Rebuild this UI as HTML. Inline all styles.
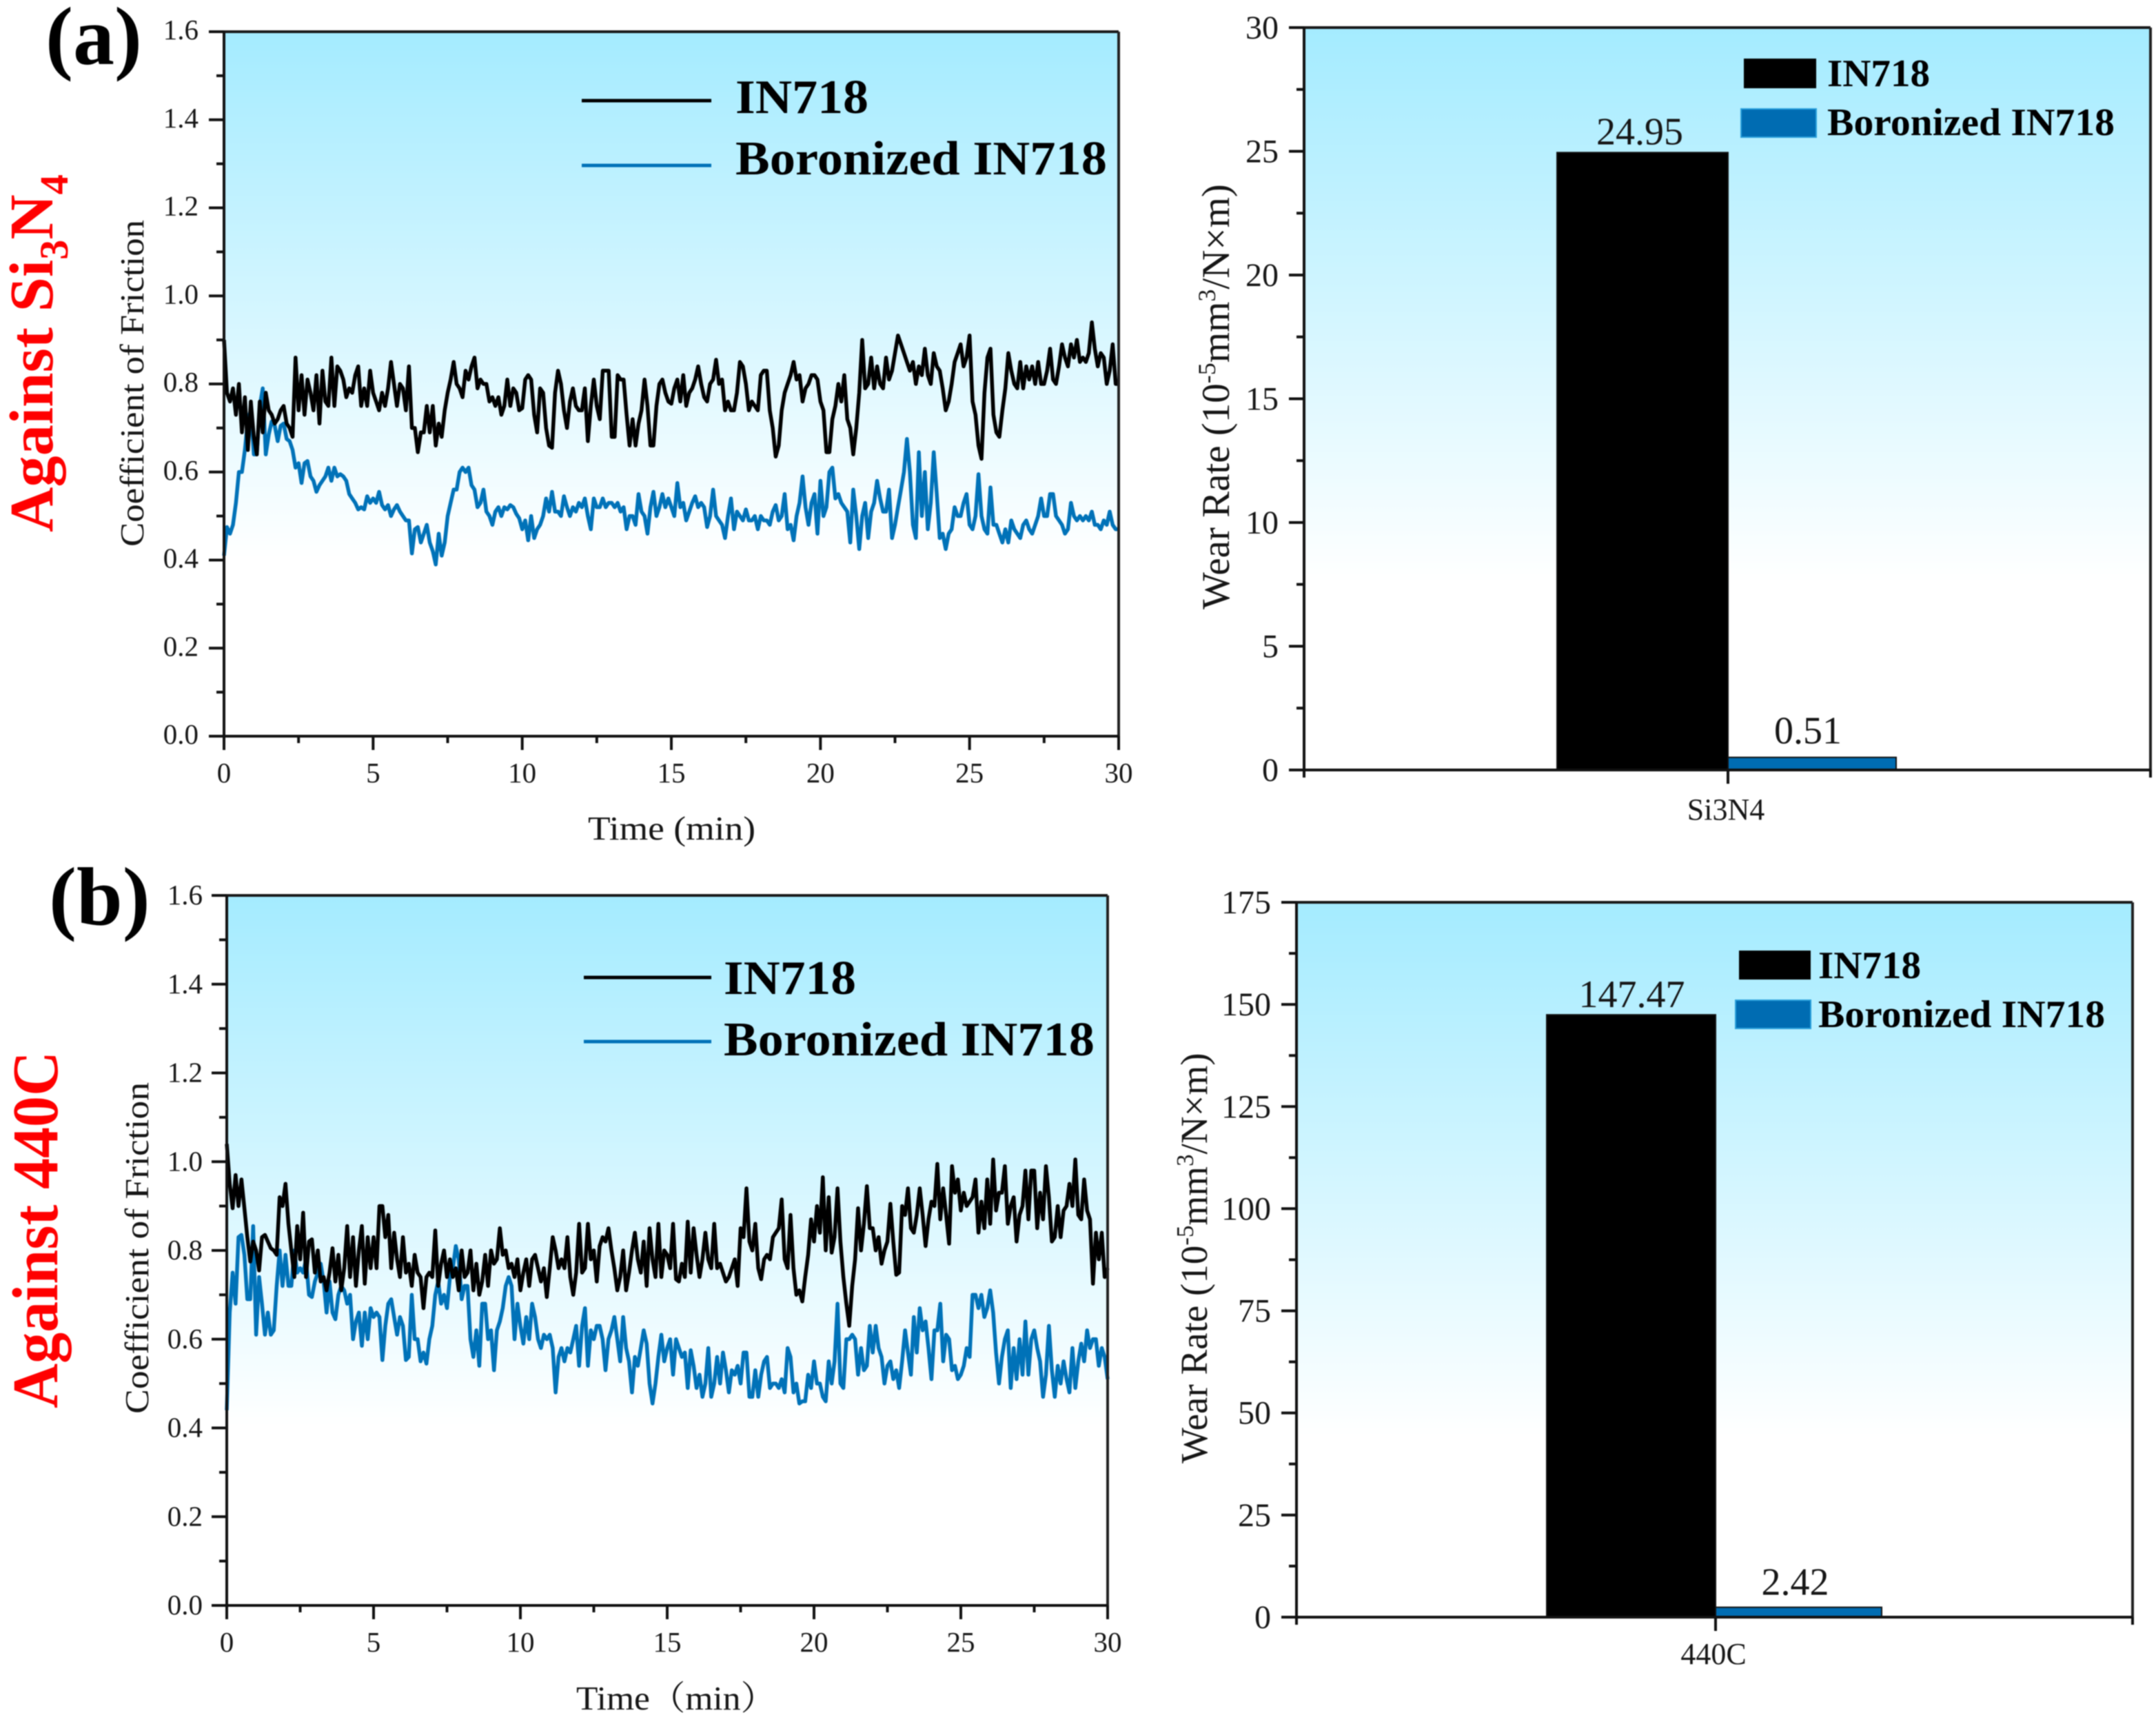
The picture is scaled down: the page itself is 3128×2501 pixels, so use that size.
<!DOCTYPE html>
<html lang="en">
<head>
<meta charset="utf-8">
<title>Friction and wear of IN718 and boronized IN718</title>
<style>
html,body{margin:0;padding:0;background:#fff;}
svg{display:block;filter:blur(0.7px);}
text{font-family:"Liberation Serif","Noto Serif CJK SC",serif;fill:#161616;}
.tick{font-size:41px;}
.tickw{font-size:48px;}
.leg{font-size:70px;font-weight:bold;fill:#000;}
.legw{font-size:56px;font-weight:bold;fill:#000;}
.panel{font-size:120px;font-weight:bold;fill:#000;}
.against{font-size:90px;font-weight:bold;fill:#ff0000;}
.axt{font-size:49px;}
.wr{font-size:57px;}
.cat{font-size:44px;}
.val{font-size:56px;}
</style>
</head>
<body>
<svg id="fig" xmlns="http://www.w3.org/2000/svg" width="3128" height="2501" viewBox="0 0 3128 2501">
<defs>
<linearGradient id="skyfade" x1="0" y1="0" x2="0" y2="1">
<stop offset="0" stop-color="#a4ebff"/>
<stop offset="0.75" stop-color="#ffffff"/>
<stop offset="1" stop-color="#ffffff"/>
</linearGradient>
</defs>
<rect width="3128" height="2501" fill="#fff"/>

<g id="panelA">
<rect x="325" y="46" width="1298" height="1022" fill="url(#skyfade)"/>
</g>
<g id="panelB">
<rect x="329" y="1299" width="1278" height="1030" fill="url(#skyfade)"/>
</g>
<g id="panelC">
<rect x="1892" y="40" width="1228" height="1077" fill="url(#skyfade)"/>
</g>
<g id="panelD">
<rect x="1881" y="1309" width="1213" height="1037" fill="url(#skyfade)"/>
</g>

<text class="panel" x="66" y="93">(a)</text>
<text class="panel" x="71" y="1341">(b)</text>
<text class="against" transform="translate(76 772) rotate(-90)" textLength="519" lengthAdjust="spacingAndGlyphs">Against Si<tspan font-size="58" dy="22">3</tspan><tspan dy="-22">N</tspan><tspan font-size="58" dy="22">4</tspan></text>
<text class="against" style="font-size:94px" transform="translate(83 2043) rotate(-90)" textLength="518" lengthAdjust="spacingAndGlyphs">Against 440C</text>

<text class="axt" transform="translate(208 793) rotate(-90)" textLength="474" lengthAdjust="spacingAndGlyphs">Coefficient of Friction</text>
<text class="axt" x="853" y="1218" textLength="243" lengthAdjust="spacingAndGlyphs">Time (min)</text>
<text class="axt" transform="translate(215 2051) rotate(-90)" textLength="481" lengthAdjust="spacingAndGlyphs">Coefficient of Friction</text>
<text class="axt" x="836" y="2480" textLength="290" lengthAdjust="spacingAndGlyphs">Time（min）</text>

<text class="wr" transform="translate(1783 884) rotate(-90)">Wear Rate (10<tspan font-size="36" dy="-20">-5</tspan><tspan dy="20">mm</tspan><tspan font-size="36" dy="-20">3</tspan><tspan dy="20">/N×m)</tspan></text>
<text class="wr" style="font-size:55px" transform="translate(1751 2123) rotate(-90)">Wear Rate (10<tspan font-size="35" dy="-20">-5</tspan><tspan dy="20">mm</tspan><tspan font-size="35" dy="-20">3</tspan><tspan dy="20">/N×m)</tspan></text>

<g>
<line x1="844" x2="1032" y1="146" y2="146" stroke="#000" stroke-width="5"/>
<line x1="844" x2="1032" y1="240" y2="240" stroke="#0072b8" stroke-width="5"/>
<text class="leg" x="1067" y="164" textLength="193" lengthAdjust="spacingAndGlyphs">IN718</text>
<text class="leg" x="1067" y="253" textLength="539" lengthAdjust="spacingAndGlyphs">Boronized IN718</text>
</g>
<g>
<line x1="847" x2="1032" y1="1418" y2="1418" stroke="#000" stroke-width="5"/>
<line x1="847" x2="1032" y1="1511" y2="1511" stroke="#0072b8" stroke-width="5"/>
<text class="leg" x="1050" y="1442" textLength="192" lengthAdjust="spacingAndGlyphs">IN718</text>
<text class="leg" x="1050" y="1531" textLength="538" lengthAdjust="spacingAndGlyphs">Boronized IN718</text>
</g>
<g>
<rect x="2530" y="85" width="105" height="43" fill="#000"/>
<rect x="2526" y="158" width="109" height="41" fill="#006cb2" stroke="#2aa0dc" stroke-width="2"/>
<text class="legw" x="2651" y="125" textLength="149" lengthAdjust="spacingAndGlyphs">IN718</text>
<text class="legw" x="2651" y="196" textLength="417" lengthAdjust="spacingAndGlyphs">Boronized IN718</text>
</g>
<g>
<rect x="2523" y="1379" width="104" height="42" fill="#000"/>
<rect x="2518" y="1451" width="109" height="41" fill="#006cb2" stroke="#2aa0dc" stroke-width="2"/>
<text class="legw" x="2638" y="1419" textLength="149" lengthAdjust="spacingAndGlyphs">IN718</text>
<text class="legw" x="2638" y="1490" textLength="416" lengthAdjust="spacingAndGlyphs">Boronized IN718</text>
</g>
</svg>

<script>
/* Friction curves: one value per 0.1 min */
const sampleStepMin = 0.1;
const timeTicks = ["0","5","10","15","20","25","30"];
const cofTicks = ["0.0","0.2","0.4","0.6","0.8","1.0","1.2","1.4","1.6"];

const si3n4In718 = [
.90,.78,.76,.79,.73,.80,.69,.77,.65,.76,
.68,.64,.76,.69,.78,.74,.73,.71,.72,.74,
.75,.71,.70,.68,.86,.74,.82,.73,.81,.78,
.74,.82,.71,.83,.76,.75,.86,.75,.84,.83,
.81,.77,.79,.78,.82,.84,.75,.79,.75,.83,
.78,.76,.74,.78,.75,.79,.85,.80,.75,.80,
.79,.74,.84,.70,.70,.645,.69,.69,.75,.69,
.75,.66,.71,.68,.74,.78,.81,.85,.80,.79,
.77,.83,.81,.84,.86,.79,.81,.80,.80,.76,
.77,.75,.77,.73,.75,.81,.75,.79,.78,.74,
.745,.81,.82,.81,.73,.69,.79,.78,.70,.66,
.655,.78,.83,.80,.74,.70,.76,.79,.75,.74,
.74,.79,.67,.75,.81,.75,.72,.83,.83,.83,
.68,.68,.82,.81,.81,.73,.66,.72,.66,.71,
.74,.81,.75,.66,.66,.75,.80,.81,.78,.76,
.755,.79,.81,.76,.82,.75,.78,.79,.81,.84,
.80,.77,.76,.80,.81,.855,.80,.81,.74,.76,
.74,.74,.78,.85,.84,.80,.74,.76,.75,.74,
.82,.83,.83,.74,.70,.635,.66,.74,.78,.80,
.82,.85,.81,.82,.76,.79,.80,.82,.82,.81,
.76,.74,.645,.645,.72,.75,.80,.76,.82,.72,
.70,.64,.70,.78,.90,.79,.80,.86,.79,.84,
.80,.79,.86,.81,.83,.87,.91,.89,.87,.85,
.83,.85,.80,.84,.82,.88,.82,.80,.87,.84,
.83,.79,.74,.76,.80,.85,.87,.89,.84,.86,
.91,.76,.73,.66,.63,.78,.86,.88,.73,.69,
.68,.74,.79,.87,.83,.80,.79,.85,.79,.84,
.81,.84,.80,.85,.80,.80,.83,.88,.81,.80,
.84,.89,.86,.84,.89,.86,.90,.85,.86,.85,
.87,.94,.88,.84,.87,.86,.80,.83,.89,.80,
.80];

const si3n4Boronized = [
.41,.475,.46,.48,.53,.60,.60,.65,.72,.74,
.64,.64,.75,.79,.64,.685,.715,.705,.67,.705,
.71,.675,.67,.65,.61,.62,.575,.62,.625,.59,
.58,.555,.57,.58,.59,.61,.58,.61,.59,.595,
.59,.58,.55,.54,.53,.515,.52,.515,.545,.53,
.54,.53,.555,.525,.515,.525,.50,.515,.525,.51,
.50,.49,.49,.415,.47,.475,.44,.46,.48,.44,
.42,.39,.46,.41,.44,.50,.53,.56,.56,.60,
.61,.60,.61,.57,.56,.52,.53,.56,.51,.50,
.48,.51,.52,.50,.52,.515,.525,.52,.505,.495,
.47,.49,.445,.50,.45,.47,.48,.50,.54,.51,
.555,.51,.51,.50,.545,.52,.50,.52,.51,.53,
.52,.54,.50,.47,.54,.52,.52,.54,.52,.53,
.53,.52,.53,.51,.52,.47,.50,.50,.48,.55,
.51,.50,.46,.52,.555,.50,.52,.55,.52,.54,
.52,.50,.575,.52,.53,.49,.51,.53,.545,.52,
.53,.52,.475,.50,.56,.50,.49,.48,.45,.50,
.54,.47,.51,.50,.49,.515,.49,.49,.50,.47,
.50,.49,.49,.48,.51,.525,.49,.50,.55,.47,
.48,.445,.50,.53,.59,.52,.48,.53,.55,.46,
.58,.50,.52,.60,.61,.54,.55,.53,.52,.51,
.44,.56,.50,.425,.50,.53,.45,.51,.53,.58,
.54,.51,.51,.56,.45,.48,.52,.56,.60,.675,
.60,.48,.45,.645,.50,.60,.47,.53,.645,.55,
.45,.46,.425,.46,.47,.52,.50,.50,.53,.55,
.48,.47,.50,.595,.50,.47,.46,.565,.48,.48,
.46,.44,.47,.44,.49,.47,.46,.45,.48,.49,
.47,.46,.48,.50,.54,.50,.50,.55,.55,.50,
.49,.48,.46,.47,.53,.50,.49,.50,.49,.50,
.49,.51,.48,.48,.47,.49,.48,.51,.48,.47,
.47];

const c440In718 = [
1.04,.95,.895,.97,.90,.96,.895,.83,.775,.82,
.80,.755,.83,.835,.82,.805,.80,.79,.92,.90,
.95,.86,.80,.74,.855,.78,.885,.74,.82,.825,
.75,.80,.73,.74,.71,.75,.805,.73,.79,.71,
.76,.855,.74,.83,.72,.80,.855,.725,.83,.76,
.83,.76,.90,.90,.83,.88,.76,.84,.78,.74,
.83,.75,.77,.72,.79,.75,.74,.67,.74,.75,
.74,.845,.72,.77,.80,.74,.78,.74,.76,.71,
.80,.74,.75,.80,.71,.77,.70,.73,.79,.72,
.80,.77,.78,.85,.79,.80,.76,.77,.74,.78,
.71,.75,.78,.72,.78,.79,.76,.73,.76,.695,
.76,.83,.80,.76,.78,.76,.83,.74,.70,.75,
.86,.75,.76,.86,.78,.80,.73,.81,.83,.82,
.85,.80,.76,.71,.74,.80,.71,.75,.80,.84,
.78,.75,.82,.72,.85,.78,.74,.86,.74,.80,
.79,.76,.86,.735,.73,.77,.74,.865,.75,.85,
.79,.74,.78,.84,.78,.76,.86,.76,.77,.75,
.73,.74,.76,.78,.72,.85,.83,.94,.82,.80,
.86,.76,.735,.78,.79,.78,.83,.84,.85,.915,
.78,.76,.88,.76,.70,.71,.685,.74,.79,.87,
.82,.90,.84,.965,.80,.92,.795,.83,.94,.82,
.74,.68,.63,.72,.78,.895,.80,.86,.945,.85,
.85,.80,.83,.77,.80,.82,.905,.82,.745,.75,
.90,.88,.94,.85,.84,.88,.94,.88,.81,.87,
.91,.90,.995,.87,.94,.88,.815,.99,.93,.96,
.89,.93,.90,.91,.92,.96,.84,.91,.85,.96,
.86,1.005,.89,.93,.93,.99,.86,.90,.92,.82,
.88,.90,.98,.87,.98,.98,.85,.93,.87,.99,
.92,.82,.83,.90,.83,.89,.90,.95,.90,1.005,
.88,.87,.96,.89,.87,.725,.84,.78,.84,.74,
.76];

const c440Boronized = [
.44,.66,.75,.68,.83,.835,.79,.69,.69,.855,
.61,.74,.68,.61,.66,.61,.62,.72,.80,.72,
.79,.72,.72,.80,.75,.76,.75,.78,.70,.695,
.73,.75,.77,.73,.66,.73,.66,.645,.70,.72,
.71,.68,.70,.60,.64,.66,.585,.66,.60,.67,
.65,.66,.65,.553,.63,.68,.69,.65,.61,.65,
.63,.553,.56,.70,.60,.60,.55,.57,.545,.60,
.63,.70,.73,.68,.70,.67,.74,.76,.81,.78,
.69,.72,.72,.60,.56,.62,.54,.68,.68,.60,
.62,.53,.62,.64,.67,.72,.74,.72,.60,.68,
.63,.59,.65,.60,.68,.65,.60,.58,.61,.60,
.61,.58,.48,.56,.58,.55,.58,.57,.60,.63,
.54,.63,.67,.54,.62,.60,.63,.63,.60,.53,
.60,.62,.65,.60,.55,.65,.58,.55,.48,.56,
.54,.58,.62,.59,.50,.455,.50,.56,.61,.55,
.58,.60,.52,.60,.58,.56,.57,.49,.575,.54,
.49,.52,.47,.50,.58,.47,.50,.56,.50,.57,
.53,.48,.53,.52,.54,.50,.57,.57,.47,.47,
.53,.47,.52,.55,.56,.49,.50,.50,.49,.51,
.48,.58,.56,.48,.50,.455,.46,.46,.52,.49,
.55,.50,.50,.47,.46,.55,.50,.55,.68,.50,
.49,.60,.60,.61,.60,.52,.58,.53,.54,.63,
.57,.63,.58,.56,.50,.54,.55,.51,.53,.49,
.55,.62,.57,.52,.65,.57,.67,.62,.64,.58,
.51,.62,.62,.68,.55,.61,.60,.53,.54,.51,
.52,.54,.58,.56,.70,.70,.67,.70,.65,.67,
.71,.66,.57,.50,.56,.60,.62,.49,.58,.51,
.60,.52,.64,.52,.60,.62,.58,.55,.47,.52,
.63,.53,.47,.54,.50,.55,.51,.48,.58,.49,
.55,.59,.55,.62,.58,.60,.60,.54,.58,.56,
.51];

/* Wear rate bars */
const wearSeries = ["IN718","Boronized IN718"];
const wearSi3n4 = [24.95, 0.51];
const wearSi3n4Printed = ["24.95","0.51"];
const wearSi3n4Ticks = ["0","5","10","15","20","25","30"];
const wear440c = [147.47, 2.42];
const wear440cPrinted = ["147.47","2.42"];
const wear440cTicks = ["0","25","50","75","100","125","150","175"];

const NS = "http://www.w3.org/2000/svg";

function addLine(g, x1, y1, x2, y2, color, width) {
  const el = document.createElementNS(NS, "line");
  el.setAttribute("x1", x1);
  el.setAttribute("y1", y1);
  el.setAttribute("x2", x2);
  el.setAttribute("y2", y2);
  el.setAttribute("stroke", color);
  el.setAttribute("stroke-width", width);
  g.appendChild(el);
  return el;
}

function addText(g, x, y, str, cls, anchor) {
  const el = document.createElementNS(NS, "text");
  el.setAttribute("x", x);
  el.setAttribute("y", y);
  el.setAttribute("class", cls);
  el.setAttribute("text-anchor", anchor);
  el.textContent = str;
  g.appendChild(el);
  return el;
}

function drawFrame(g, b) {
  const top = addLine(g, b.L, b.T, b.R, b.T, "#1a1a1a", 4);
  
  
  const right = addLine(g, b.R, b.T, b.R, b.B, "#222", 4);
  
  
  const yAxis = addLine(g, b.L, b.T, b.L, b.B, "#111", 4);
  
  
  const xAxis = addLine(g, b.L, b.B, b.R, b.B, "#111", 4);
  
  
}

function drawYAxis(g, b, labels, maxVal, labelEnd, cls, shift) {
  const y = v => b.B - (v / maxVal) * (b.B - b.T);
  const step = maxVal / (labels.length - 1);
  labels.forEach(function (lab, i) {
    const v = i * step;
    const t = addLine(g, b.L - 22, y(v), b.L, y(v), "#111", 4);
    
    
    const txt = addText(g, labelEnd, y(v) + shift, lab, cls, "end");
    
    
    if (i < labels.length - 1) {
      const m = addLine(g, b.L - 11, y(v + step / 2), b.L, y(v + step / 2), "#111", 4);
      
      
    }
  });
}

function drawFriction(g, b, seriesBlack, seriesBlue, labelEnd, tickBase, labelShift) {
  const x = t => b.L + (t / 30) * (b.R - b.L);
  const y = v => b.B - (v / 1.6) * (b.B - b.T);
  const toPath = arr => arr.map((v, i) => (i ? "L" : "M") + x(i * sampleStepMin).toFixed(1) + " " + y(v).toFixed(1)).join("");

  const blue = document.createElementNS(NS, "path");
  blue.setAttribute("d", toPath(seriesBlue));
  blue.setAttribute("fill", "none");
  blue.setAttribute("stroke", "#0072b8");
  blue.setAttribute("stroke-width", "5.5");
  blue.setAttribute("stroke-linejoin", "round");
  
  
  g.appendChild(blue);

  const black = document.createElementNS(NS, "path");
  black.setAttribute("d", toPath(seriesBlack));
  black.setAttribute("fill", "none");
  black.setAttribute("stroke", "#000");
  black.setAttribute("stroke-width", "5.5");
  black.setAttribute("stroke-linejoin", "round");
  
  
  g.appendChild(black);

  drawFrame(g, b);
  drawYAxis(g, b, cofTicks, 1.6, labelEnd, "tick", labelShift);

  timeTicks.forEach(function (lab) {
    const t = Number(lab);
    const tick = addLine(g, x(t), b.B, x(t), b.B + 20, "#111", 4);
    
    
    const txt = addText(g, x(t), tickBase, lab, "tick", "middle");
    
    
    if (t < 30) {
      const m = addLine(g, x(t + 2.5), b.B, x(t + 2.5), b.B + 10, "#111", 4);
      
      
    }
  });
}

function drawWear(g, b, values, printed, ticks, maxVal, o) {
  const y = v => b.B - (v / maxVal) * (b.B - b.T);
  const colors = ["#000000", "#006cb2"];
  values.forEach(function (v, i) {
    const w = o.barW[i];
    const left = i === 0 ? o.cx - w : o.cx;
    const r = document.createElementNS(NS, "rect");
    r.setAttribute("x", left);
    r.setAttribute("y", y(v));
    r.setAttribute("width", w);
    r.setAttribute("height", b.B - y(v));
    r.setAttribute("fill", colors[i]);
    r.setAttribute("stroke", "#111");
    r.setAttribute("stroke-width", "2");
    
    
    g.appendChild(r);
    const lab = addText(g, left + w / 2 + o.labelDx[i], y(v) - o.labelGap[i], printed[i], "val", "middle");
    
    
  });
  drawFrame(g, b);
  drawYAxis(g, b, ticks, maxVal, o.labelEnd, "tickw", 16);
  const cTick = addLine(g, o.cx, b.B, o.cx, b.B + 20, "#111", 4);
  
  
  [b.L, b.R].forEach(function (px) {
    const t = addLine(g, px, b.B, px, b.B + 11, "#111", 4);
    
    
  });
  const cat = addText(g, o.catX, o.catY, o.category, "cat", "middle");
  
  
}

drawFriction(document.getElementById("panelA"), {L:325,R:1623,T:46,B:1068}, si3n4In718, si3n4Boronized, 288, 1135, 11);
drawFriction(document.getElementById("panelB"), {L:329,R:1607,T:1299,B:2329}, c440In718, c440Boronized, 294, 2396, 13);
drawWear(document.getElementById("panelC"), {L:1892,R:3120,T:40,B:1117}, wearSi3n4, wearSi3n4Printed, wearSi3n4Ticks, 30,
  {cx:2507, barW:[248,244], labelEnd:1855, labelGap:[12,20], labelDx:[-4,-6], catX:2504, catY:1189, category:"Si3N4"});
drawWear(document.getElementById("panelD"), {L:1881,R:3094,T:1309,B:2346}, wear440c, wear440cPrinted, wear440cTicks, 175,
  {cx:2489, barW:[245,241], labelEnd:1844, labelGap:[11,18], labelDx:[1,-5], catX:2486, catY:2414, category:"440C"});
</script>
</body>
</html>
